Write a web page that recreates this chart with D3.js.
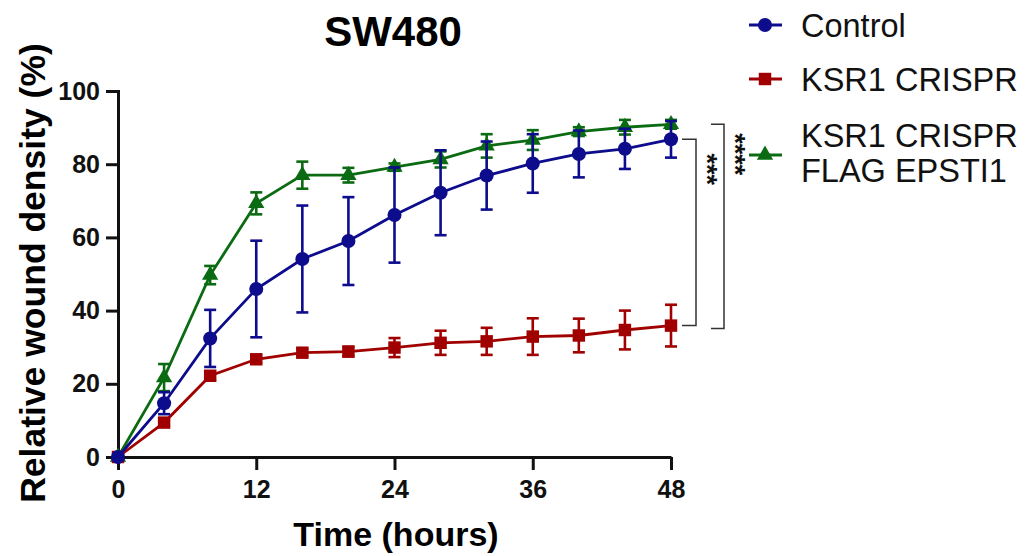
<!DOCTYPE html>
<html lang="en">

<head>
    <meta charset="UTF-8">
    <title>SW480 wound density</title>
    <script src="https://d3js.org/d3.v7.min.js"></script>
    <style>
        body {
            margin: 0;
            background: white;
        }

        .axis text {
            font-family: "Liberation Sans Narrow", "Arial Narrow", sans-serif;
            font-weight: bold;
            font-size: 25px;
            fill: #111;
        }

        .axis path,
        .axis line {
            stroke: #111;
            stroke-width: 3;
        }
    </style>
</head>

<body>
    <div id="chart"></div>
    <script>
        const width = 1033;
        const height = 556;

        // data
        const hours = [0, 4, 8, 12, 16, 20, 24, 28, 32, 36, 40, 44, 48];
        const controlMean = [0, 14.7, 32.4, 45.9, 54.1, 59.0, 66.1, 72.2, 76.9, 80.2, 82.8, 84.2, 86.8];
        const controlErr = [0, 3.0, 7.8, 13.2, 14.6, 12.0, 13.0, 11.6, 9.3, 8.0, 6.4, 5.5, 5.0];
        const crisprMean = [0, 9.4, 22.2, 26.7, 28.5, 28.8, 29.9, 31.2, 31.6, 32.9, 33.2, 34.7, 35.9];
        const crisprErr = [0, 0.8, 1.2, 1.0, 1.0, 1.3, 2.6, 3.3, 3.7, 5.0, 4.6, 5.3, 5.7];
        const epstiMean = [0, 21.7, 49.7, 69.3, 77.0, 77.0, 79.2, 81.3, 85.0, 86.6, 88.9, 90.1, 90.9];
        const epstiErr = [0, 3.7, 2.5, 3.0, 3.7, 2.0, 1.0, 2.2, 3.2, 2.7, 1.2, 2.0, 1.2];
        const xTicks = [0, 12, 24, 36, 48];
        const yTicks = [0, 20, 40, 60, 80, 100];

        const series = [
            { name: "KSR1 CRISPR FLAG EPSTI1", mean: epstiMean, err: epstiErr, color: "#0b6b12", symbol: d3.symbolTriangle },
            { name: "KSR1 CRISPR", mean: crisprMean, err: crisprErr, color: "#a00000", symbol: d3.symbolSquare },
            { name: "Control", mean: controlMean, err: controlErr, color: "#0c0c8c", symbol: d3.symbolCircle }
        ];

        const svg = d3.select("#chart")
            .append("svg")
            .attr("width", width)
            .attr("height", height);

        const x = d3.scaleLinear().domain([0, 48]).range([118, 671]);
        const y = d3.scaleLinear().domain([0, 100]).range([457, 91]);

        // axes
        svg.append("g")
            .attr("class", "axis")
            .attr("transform", `translate(0,${y(0)})`)
            .call(d3.axisBottom(x).tickValues(xTicks).tickSize(13).tickSizeOuter(0).tickPadding(10));

        svg.append("g")
            .attr("class", "axis")
            .attr("transform", `translate(${x(0)},0)`)
            .call(d3.axisLeft(y).tickValues(yTicks).tickSize(12).tickSizeOuter(0).tickPadding(6))
            .select(".domain").attr("stroke-linecap", "square");

        svg.selectAll(".axis").attr("font-size", null).attr("font-family", null);

        // series: error bars, lines, markers
        series.forEach(s => {
            const pts = hours.map((h, i) => ({ h: h, m: s.mean[i], e: s.err[i] }));
            const g = svg.append("g");

            const bars = g.selectAll(".eb")
                .data(pts.filter(p => p.e > 0))
                .enter().append("g")
                .attr("stroke", s.color)
                .attr("stroke-width", 2.6);
            bars.append("line")
                .attr("x1", d => x(d.h)).attr("x2", d => x(d.h))
                .attr("y1", d => y(d.m - d.e)).attr("y2", d => y(d.m + d.e));
            [-1, 1].forEach(sign => {
                bars.append("line")
                    .attr("x1", d => x(d.h) - 6).attr("x2", d => x(d.h) + 6)
                    .attr("y1", d => y(d.m + sign * d.e)).attr("y2", d => y(d.m + sign * d.e));
            });

            g.append("path")
                .datum(pts)
                .attr("fill", "none")
                .attr("stroke", s.color)
                .attr("stroke-width", 2.8)
                .attr("d", d3.line().x(d => x(d.h)).y(d => y(d.m)));

            g.selectAll(".pt")
                .data(pts)
                .enter().append("path")
                .attr("transform", d => `translate(${x(d.h)},${y(d.m)})`)
                .attr("d", d3.symbol().type(s.symbol).size(s.symbol === d3.symbolTriangle ? 115 : 155))
                .attr("fill", s.color);
        });

        // significance brackets
        const last = hours.length - 1;
        function bracket(x0, x1, v0, v1, label, tx, ty) {
            svg.append("path")
                .attr("d", `M${x0},${y(v0)}H${x1}V${y(v1)}H${x0}`)
                .attr("fill", "none")
                .attr("stroke", "#333")
                .attr("stroke-width", 1.5);
            svg.append("text")
                .attr("transform", `translate(${tx},${ty}) rotate(90)`)
                .attr("text-anchor", "middle")
                .attr("dominant-baseline", "central")
                .attr("font-family", "Liberation Sans, Arial, sans-serif")
                .attr("font-weight", "bold")
                .attr("font-size", 27)
                .attr("fill", "#111")
                .text(label);
        }
        bracket(682, 696, controlMean[last], crisprMean[last], "***", 707, y(controlMean[last]) + 30);
        bracket(711, 724, epstiMean[last], crisprMean[last] - 0.8, "****", 735, y(epstiMean[last]) + 30);

        // title and axis titles
        svg.append("text")
            .attr("x", 393).attr("y", 46)
            .attr("text-anchor", "middle")
            .attr("font-family", "Liberation Sans, Arial, sans-serif")
            .attr("font-weight", "bold")
            .attr("font-size", 42)
            .text("SW480");

        svg.append("text")
            .attr("x", 396).attr("y", 546)
            .attr("text-anchor", "middle")
            .attr("font-family", "Liberation Sans, Arial, sans-serif")
            .attr("font-weight", "bold")
            .attr("font-size", 34)
            .text("Time (hours)");

        svg.append("text")
            .attr("transform", "translate(45,273) rotate(-90)")
            .attr("text-anchor", "middle")
            .attr("font-family", "Liberation Sans, Arial, sans-serif")
            .attr("font-weight", "bold")
            .attr("font-size", 35.5)
            .text("Relative wound density (%)");

        // legend
        const legendRows = [
            { s: series[2], y: 25, lines: ["Control"], base: [37] },
            { s: series[1], y: 79, lines: ["KSR1 CRISPR"], base: [91] },
            { s: series[0], y: 155, lines: ["KSR1 CRISPR", "FLAG EPSTI1"], base: [147, 182] }
        ];
        legendRows.forEach(r => {
            svg.append("line")
                .attr("x1", 749).attr("x2", 782)
                .attr("y1", r.y).attr("y2", r.y)
                .attr("stroke", r.s.color).attr("stroke-width", 2.8);
            svg.append("path")
                .attr("transform", `translate(765,${r.y})`)
                .attr("d", d3.symbol().type(r.s.symbol).size(r.s.symbol === d3.symbolTriangle ? 115 : 155))
                .attr("fill", r.s.color);
            r.lines.forEach((t, i) => {
                svg.append("text")
                    .attr("x", 801).attr("y", r.base[i])
                    .attr("font-family", "Liberation Sans, Arial, sans-serif")
                    .attr("font-size", 32.5)
                    .attr("fill", "#111")
                    .text(t);
            });
        });
    </script>
</body>

</html>
